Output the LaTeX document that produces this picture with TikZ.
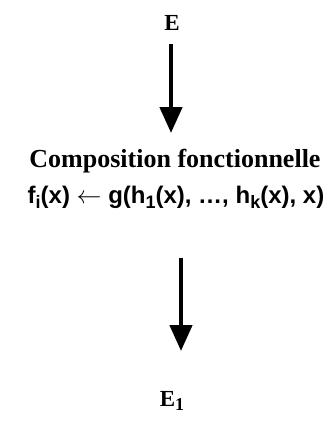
\documentclass[tikz,border=0pt]{standalone}
\usepackage{fontspec}
\setmainfont{Liberation Serif}
\newfontfamily\formfont{Liberation Sans}
\usetikzlibrary{arrows.meta, positioning}
\newcommand{\ind}[1]{\raisebox{-0.4ex}{\fontsize{18}{18}\selectfont #1}}
\tikzset{
  etat/.style    = {inner sep=1pt, font=\fontsize{23}{28}\selectfont\bfseries},
  titre/.style   = {inner sep=1pt, font=\fontsize{26}{30}\selectfont\bfseries},
  formule/.style = {inner sep=1pt, font=\fontsize{24}{28}\selectfont\formfont\bfseries},
  fleche/.style  = {line width=4.5pt, -{Triangle[length=26pt, width=22pt]}}
}

\begin{document}
\begin{tikzpicture}[x=1pt, y=-1pt]
  \useasboundingbox (0,0) rectangle (333,426);

  \node[etat]    (E)    at (172,23)  {E};

  % etape
  \node[titre]   (comp) at (175,161) {Composition fonctionnelle};
  \node[formule] (form) at (176,197) {f\ind{i}(x) $\leftarrow$ g(h\ind{1}(x), \dots, h\ind{k}(x), x)};

  \node[etat]    (E1)   at (172,401) {E\ind{1}};

  \coordinate (d1) at (171,44);
  \coordinate (a1) at (171,133);
  \coordinate (d2) at (181,258);
  \coordinate (a2) at (181,351);

  \draw[fleche] (d1) -- (a1);
  \draw[fleche] (d2) -- (a2);

\end{tikzpicture}
\end{document}
